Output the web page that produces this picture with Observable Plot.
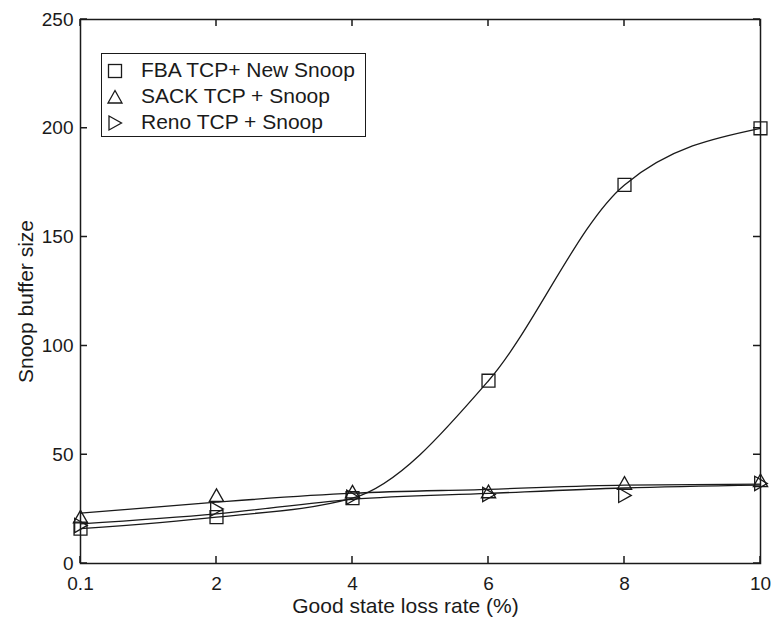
<!DOCTYPE html>
<html><head><meta charset="utf-8">
<script src="https://cdn.jsdelivr.net/npm/d3@7"></script>
<script src="https://cdn.jsdelivr.net/npm/@observablehq/plot@0.6"></script>
<style>
body{margin:0;background:#fff;}
#wrap{position:relative;width:773px;height:620px;}
#legend{position:absolute;left:101px;top:53px;width:265px;height:84px;border:1.3px solid #1a1a1a;background:#fff;box-sizing:border-box;font-family:"Liberation Sans",Arial,sans-serif;font-size:21px;color:#1a1a1a;}
#legend .row{position:absolute;left:0;height:26px;line-height:26px;white-space:nowrap;}
#legend svg{position:absolute;left:3px;top:4px;}
#legend span{position:absolute;left:39px;top:0;}
</style></head><body><div id="wrap"><div id="legend"></div></div>
<script>
const xValues = [0.1, 2, 4, 6, 8, 10];
const xTickLabels = ["0.1", "2", "4", "6", "8", "10"];
const yTicks = [0, 50, 100, 150, 200, 250];
const fbaValues = [16, 21.3, 30, 84, 174, 200];
const sackValues = [21.3, 31.2, 32.8, 32.9, 36.8, 38];
const renoValues = [17.5, 25, 30.5, 31.7, 31.3, 36.8];
const sackFit = [23.1, 28.2, 32.3, 34.1, 36, 36.5];
const renoFit = [18.2, 22.8, 29.5, 32.2, 34.7, 36];
const seriesNames = ["FBA TCP+ New Snoop", "SACK TCP + Snoop", "Reno TCP + Snoop"];
const xLabel = "Good state loss rate (%)";
const yLabel = "Snoop buffer size";

const rows = xValues.map((x, i) => ({
  x, fba: fbaValues[i], sack: sackValues[i], reno: renoValues[i],
  sackFit: sackFit[i], renoFit: renoFit[i]
}));

const W = 773, H = 620, mL = 80, mR = 13, mT = 19, mB = 57, tickLen = 7;
const plotW = W - mL - mR, plotH = H - mT - mB;

const ink = "#1a1a1a";
const lw = 1.3;
const triUp = {draw(ctx, size) {
  const h = Math.sqrt(size) / 2;
  ctx.moveTo(0, -h * 1.05); ctx.lineTo(h * 1.1, h * 0.9); ctx.lineTo(-h * 1.1, h * 0.9); ctx.closePath();
}};
const triRight = {draw(ctx, size) {
  const h = Math.sqrt(size) / 2;
  ctx.moveTo(-h * 0.9, -h * 1.1); ctx.lineTo(h * 1.05, 0); ctx.lineTo(-h * 0.9, h * 1.1); ctx.closePath();
}};
const fmtX = d => xTickLabels[xValues.indexOf(d)];

// inward tick marks, one small path per tick, placed through the scales
const tickRows = [
  ...xValues.map(v => ({v, side: "bottom"})),
  ...xValues.map(v => ({v, side: "top"})),
  ...yTicks.map(v => ({v, side: "left"})),
  ...yTicks.map(v => ({v, side: "right"}))
];

function inwardTicks() {
  return (index, scales, values, dims) => {
    const {x, y} = scales;
    const x0 = dims.marginLeft, x1 = dims.width - dims.marginRight;
    const y0 = dims.marginTop, y1 = dims.height - dims.marginBottom;
    const path = d3.path();
    for (const t of tickRows) {
      if (t.side === "bottom") { const px = x(t.v); path.moveTo(px, y1); path.lineTo(px, y1 - tickLen); }
      else if (t.side === "top") { const px = x(t.v); path.moveTo(px, y0); path.lineTo(px, y0 + tickLen); }
      else if (t.side === "left") { const py = y(t.v); path.moveTo(x0, py); path.lineTo(x0 + tickLen, py); }
      else { const py = y(t.v); path.moveTo(x1, py); path.lineTo(x1 - tickLen, py); }
    }
    const p = document.createElementNS("http://www.w3.org/2000/svg", "path");
    p.setAttribute("d", path.toString());
    p.setAttribute("stroke", ink);
    p.setAttribute("stroke-width", "1.5");
    p.setAttribute("fill", "none");
    return p;
  };
}

const chart = Plot.plot({
  width: W,
  height: H,
  marginLeft: mL,
  marginRight: mR,
  marginTop: mT,
  marginBottom: mB,
  style: {fontFamily: "Liberation Sans, Arial, sans-serif", fontSize: "19px", color: ink, background: "#fff"},
  x: {type: "point", domain: xValues, padding: 0, label: null},
  y: {domain: [0, 250], label: null},
  marks: [
    Plot.line(rows, {x: "x", y: "sackFit", curve: "monotone-x", stroke: ink, strokeWidth: lw}),
    Plot.line(rows, {x: "x", y: "renoFit", curve: "monotone-x", stroke: ink, strokeWidth: lw}),
    Plot.line(rows, {x: "x", y: "fba", curve: "monotone-x", stroke: ink, strokeWidth: lw}),
    Plot.dot(rows, {x: "x", y: "fba", symbol: "square", r: 7.3, stroke: ink, fill: "none", strokeWidth: lw}),
    Plot.dot(rows, {x: "x", y: "sack", symbol: triUp, r: 7.3, stroke: ink, fill: "none", strokeWidth: lw}),
    Plot.dot(rows, {x: "x", y: "reno", symbol: triRight, r: 7.3, stroke: ink, fill: "none", strokeWidth: lw}),
    Plot.frame({stroke: ink, strokeWidth: 1.5}),
    inwardTicks(),
    Plot.axisX({anchor: "bottom", tickSize: 0, tickPadding: 13, tickFormat: fmtX, label: null, fontSize: 19}),
    Plot.axisY({anchor: "left", ticks: yTicks, tickSize: 0, tickPadding: 7, label: null, fontSize: 19}),
    Plot.text([xLabel], {text: d => d, frameAnchor: "bottom", textAnchor: "middle", lineAnchor: "middle", dy: 43, dx: -15, fontSize: 21, fill: ink}),
    Plot.text([yLabel], {text: d => d, frameAnchor: "left", textAnchor: "middle", lineAnchor: "middle", rotate: -90, dx: -54, dy: 10, fontSize: 21, fill: ink})
  ]
});
document.getElementById("wrap").prepend(chart);

const symbolPaths = [
  '<rect x="3.5" y="3.5" width="13" height="13" fill="none" stroke="#1a1a1a" stroke-width="1.3"/>',
  '<path d="M10,3.5 L17,16 L3,16 Z" fill="none" stroke="#1a1a1a" stroke-width="1.3"/>',
  '<path d="M4,3 L16.5,10 L4,17 Z" fill="none" stroke="#1a1a1a" stroke-width="1.3"/>'
];
const legend = document.getElementById("legend");
seriesNames.forEach((name, i) => {
  const row = document.createElement("div");
  row.className = "row";
  row.style.top = (3 + i * 26) + "px";
  row.innerHTML = `<svg width="20" height="20">${symbolPaths[i]}</svg><span>${name}</span>`;
  legend.appendChild(row);
});
</script>
</body></html>
